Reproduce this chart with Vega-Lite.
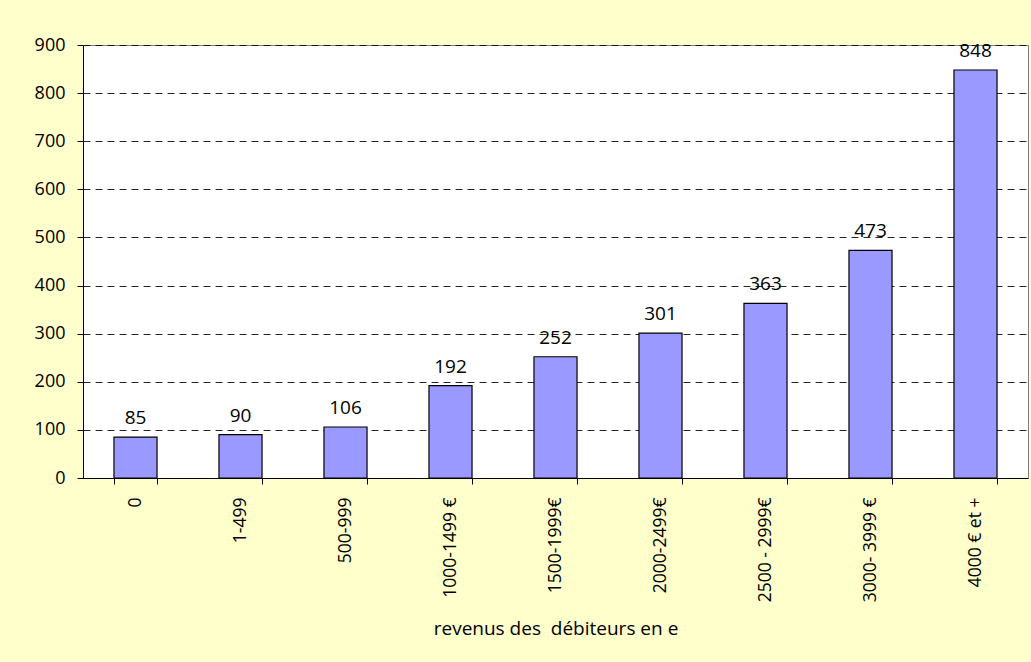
{
  "$schema": "https://vega.github.io/schema/vega-lite/v6.json",
  "autosize": {"type": "none"},
  "padding": {"left": 83, "top": 45, "right": 3, "bottom": 184},
  "width": 945,
  "height": 433,
  "background": "#FFFFCC",
  "config": {
    "view": {"fill": "white", "stroke": "#808080", "strokeWidth": 1},
    "axis": {"labelColor": "black", "titleColor": "black", "domainColor": "black", "tickColor": "black"}
  },
  "data": {
    "values": [
      {"cat": "0", "val": 85},
      {"cat": "1-499", "val": 90},
      {"cat": "500-999", "val": 106},
      {"cat": "1000-1499 €", "val": 192},
      {"cat": "1500-1999€", "val": 252},
      {"cat": "2000-2499€", "val": 301},
      {"cat": "2500 - 2999€", "val": 363},
      {"cat": "3000- 3999 €", "val": 473},
      {"cat": "4000 € et +", "val": 848}
    ]
  },
  "encoding": {
    "x": {
      "field": "cat",
      "type": "nominal",
      "sort": null,
      "scale": {"paddingInner": 0.59, "paddingOuter": 0.295},
      "axis": {
        "title": "revenus des \u00a0débiteurs en e",
        "labelAngle": -90,
        "labelFont": "Open Sans",
        "labelFontSize": 17.5,
        "labelPadding": 13,
        "tickSize": 6,
        "tickBand": "extent",
        "domainWidth": 1,
        "titleFont": "Open Sans",
        "titleFontSize": 19,
        "titleFontWeight": "normal",
        "titlePadding": 18
      }
    },
    "y": {
      "field": "val",
      "type": "quantitative",
      "scale": {"domain": [0, 900]},
      "axis": {
        "title": null,
        "values": [0, 100, 200, 300, 400, 500, 600, 700, 800, 900],
        "labelFont": "Open Sans",
        "labelFontSize": 18,
        "labelPadding": 12,
        "tickSize": 6,
        "grid": true,
        "gridColor": "black",
        "gridDash": [7, 5],
        "gridWidth": 1,
        "gridOpacity": 0.85
      }
    }
  },
  "layer": [
    {"mark": {"type": "bar", "fill": "#9999FF", "stroke": "black", "strokeWidth": 1.2}},
    {
      "mark": {"type": "text", "font": "Open Sans", "fontSize": 19, "dy": -13, "baseline": "alphabetic", "color": "black"},
      "encoding": {"text": {"field": "val", "type": "quantitative"}}
    }
  ]
}
